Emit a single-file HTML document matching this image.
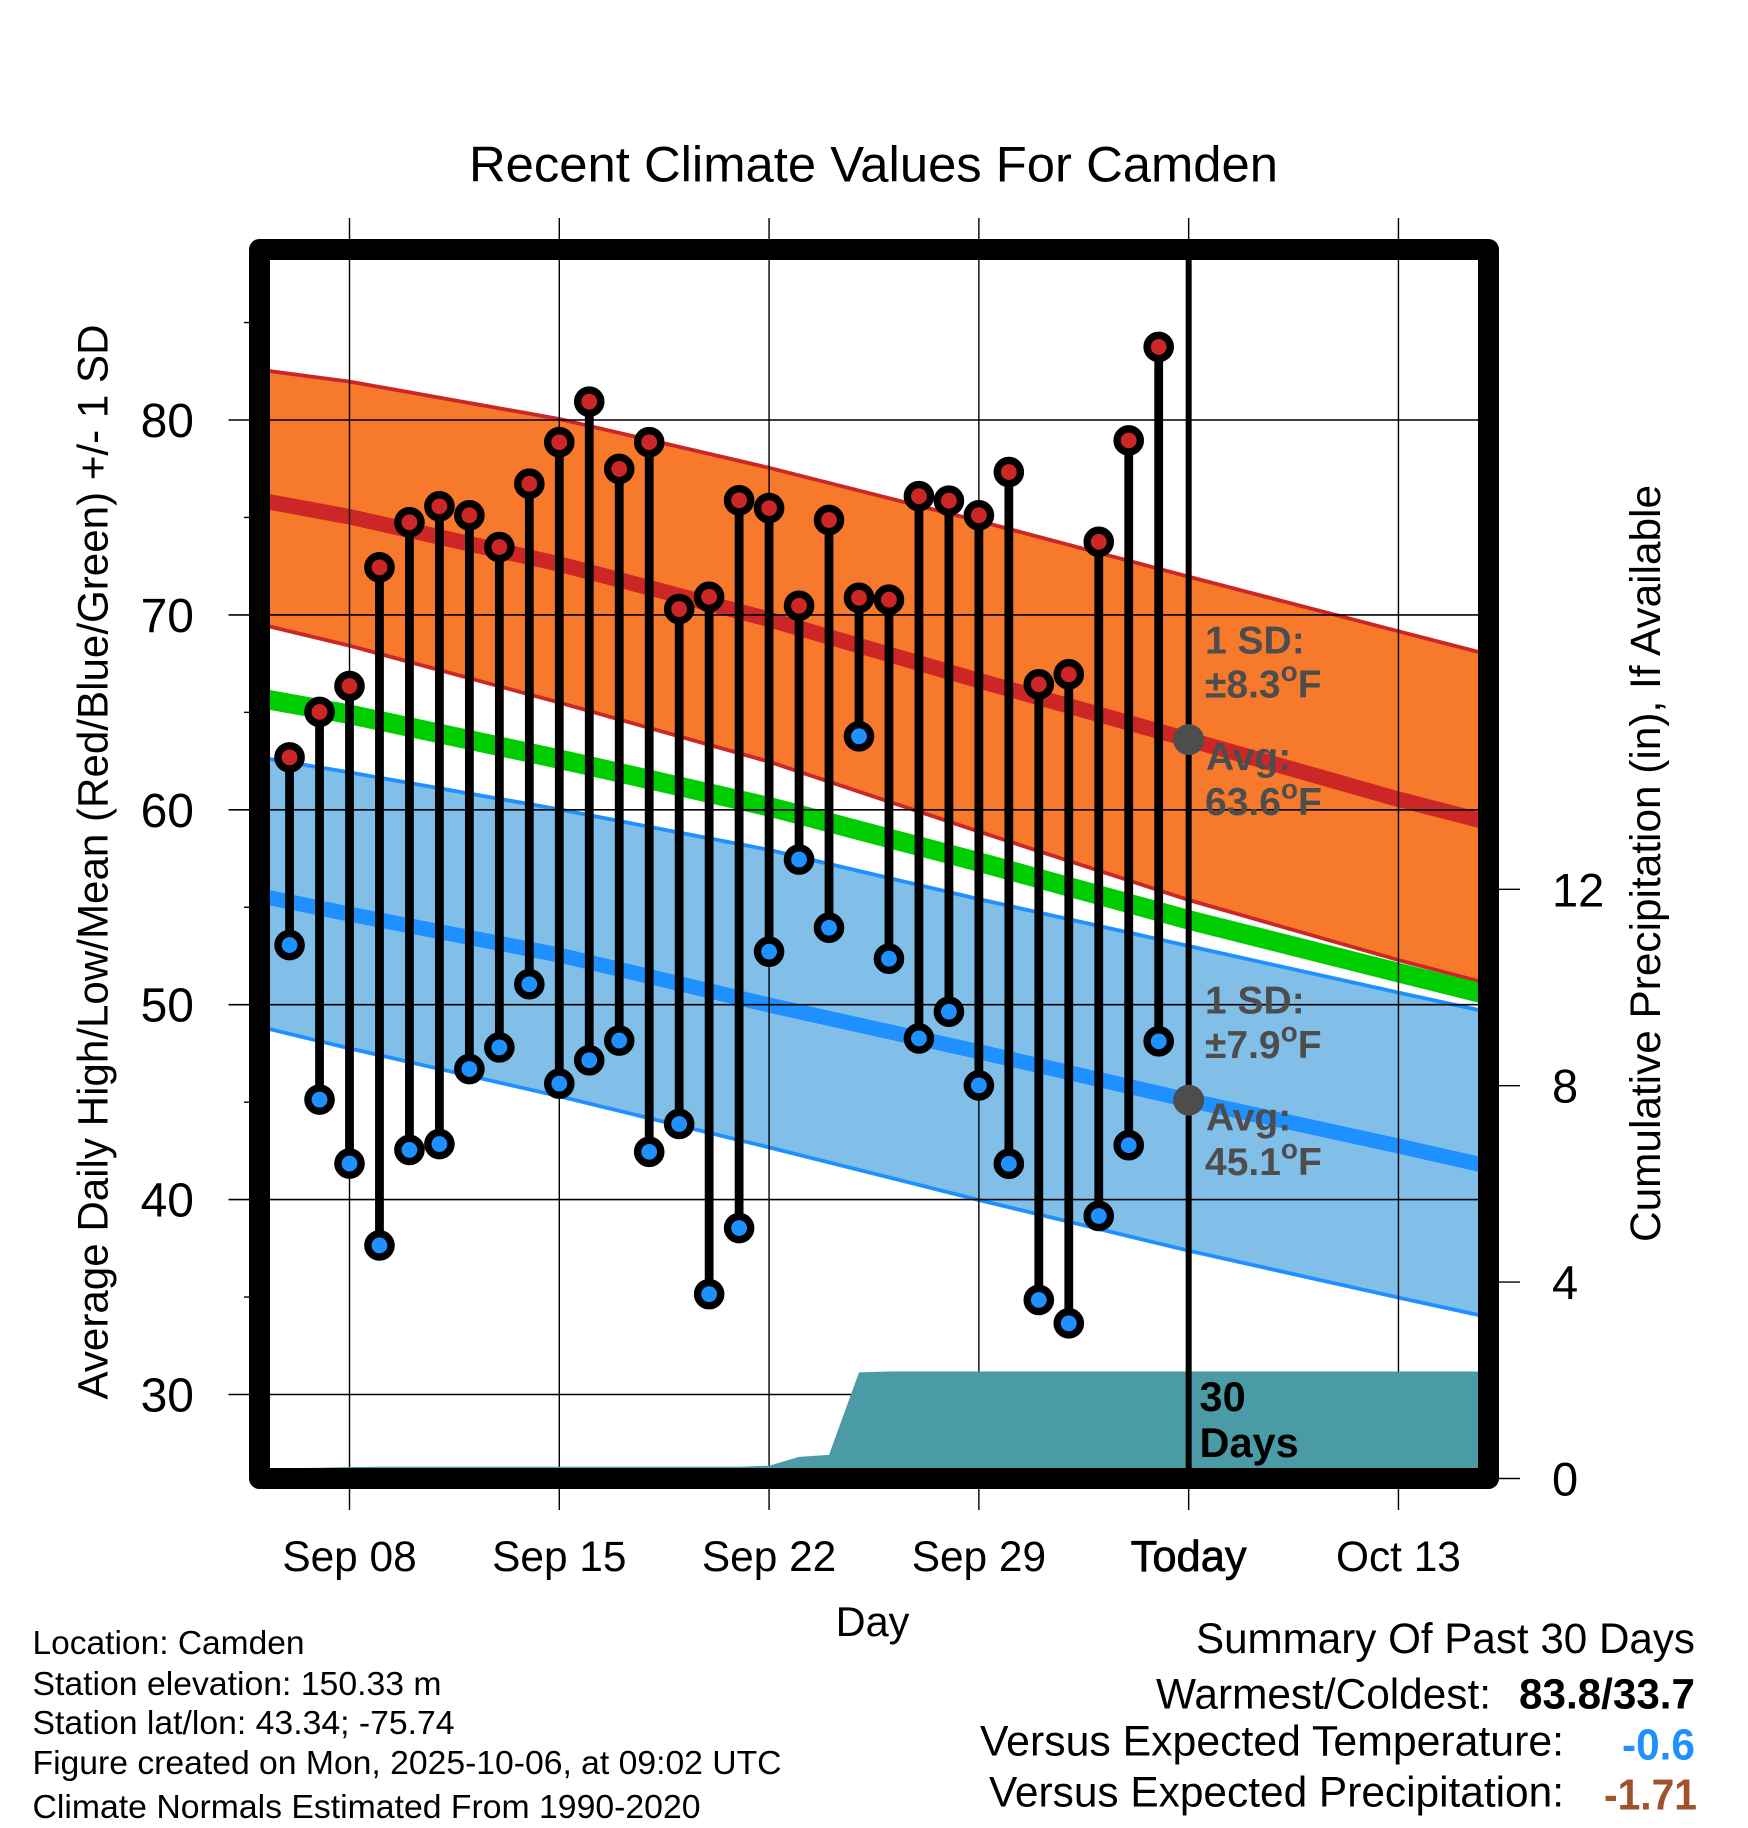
<!DOCTYPE html>
<html lang="en">
<head>
<meta charset="utf-8">
<title>Recent Climate Values For Camden</title>
<style>
html,body{margin:0;padding:0;background:#fff;}
svg{display:block;font-family:"Liberation Sans",Arial,sans-serif;}
</style>
</head>
<body>
<svg id="chart" xmlns="http://www.w3.org/2000/svg" width="1748" height="1828" viewBox="0 0 1748 1828">
  <rect x="0" y="0" width="1748" height="1828" fill="#ffffff"/>
  <text x="873.5" y="181.5" font-size="50.5" text-anchor="middle" textLength="809" lengthAdjust="spacingAndGlyphs">Recent Climate Values For Camden</text>
  <g id="bands"></g>
  <g id="grid"></g>
  <g id="precip"></g>
  <line id="today-line" stroke="#000" stroke-width="6"/>
  <g id="stems"></g>
  <g id="points"></g>
  <g id="today-marks"></g>
  <rect x="259.5" y="249.5" width="1229" height="1229" fill="none" stroke="#000" stroke-width="21" stroke-linejoin="round"/>
  <g id="axis-labels"></g>

  <text transform="translate(107.5,862) rotate(-90)" font-size="43" text-anchor="middle" textLength="1075" lengthAdjust="spacingAndGlyphs">Average Daily High/Low/Mean (Red/Blue/Green) +/- 1 SD</text>
  <text transform="translate(1660,863.5) rotate(-90)" font-size="42.6" text-anchor="middle" textLength="757" lengthAdjust="spacingAndGlyphs">Cumulative Precipitation (in), If Available</text>
  <text x="872.5" y="1636" font-size="41.5" text-anchor="middle">Day</text>

  <g fill="#4d4d4d" font-size="39" font-weight="bold">
    <text x="1205" y="653.5">1 SD:</text>
    <text x="1205" y="697.5">±8.3<tspan font-size="28" dy="-16.5">o</tspan><tspan dy="16.5">F</tspan></text>
    <text x="1206" y="770">Avg:</text>
    <text x="1205" y="815">63.6<tspan font-size="28" dy="-16.5">o</tspan><tspan dy="16.5">F</tspan></text>
  </g>
  <g fill="#4d4d4d" font-size="39" font-weight="bold">
    <text x="1205" y="1013.5">1 SD:</text>
    <text x="1205" y="1058">±7.9<tspan font-size="28" dy="-16.5">o</tspan><tspan dy="16.5">F</tspan></text>
    <text x="1206" y="1130.5">Avg:</text>
    <text x="1205" y="1175">45.1<tspan font-size="28" dy="-16.5">o</tspan><tspan dy="16.5">F</tspan></text>
  </g>
  <text x="1199.5" y="1411" font-size="41.5" font-weight="bold">30</text>
  <text x="1199.5" y="1457" font-size="41.5" font-weight="bold">Days</text>

  <g font-size="33.2">
    <text x="32.5" y="1654" textLength="272" lengthAdjust="spacingAndGlyphs">Location: Camden</text>
    <text x="32.5" y="1695" textLength="409" lengthAdjust="spacingAndGlyphs">Station elevation: 150.33 m</text>
    <text x="32.5" y="1734" textLength="422" lengthAdjust="spacingAndGlyphs">Station lat/lon: 43.34; -75.74</text>
    <text x="32.5" y="1774" textLength="749" lengthAdjust="spacingAndGlyphs">Figure created on Mon, 2025-10-06, at 09:02 UTC</text>
    <text x="32.5" y="1818" textLength="668" lengthAdjust="spacingAndGlyphs">Climate Normals Estimated From 1990-2020</text>
  </g>

  <g font-size="42.4">
    <text x="1196" y="1653" textLength="499" lengthAdjust="spacingAndGlyphs">Summary Of Past 30 Days</text>
    <text x="1156" y="1708.5" textLength="335" lengthAdjust="spacingAndGlyphs">Warmest/Coldest:</text>
    <text x="1519" y="1708.5" font-weight="bold" textLength="176" lengthAdjust="spacingAndGlyphs">83.8/33.7</text>
    <text x="980" y="1755.5" textLength="584" lengthAdjust="spacingAndGlyphs">Versus Expected Temperature:</text>
    <text x="1622" y="1759.5" font-weight="bold" font-size="43.5" fill="#1e90ff" textLength="73" lengthAdjust="spacingAndGlyphs">-0.6</text>
    <text x="989" y="1806.5" textLength="575" lengthAdjust="spacingAndGlyphs">Versus Expected Precipitation:</text>
    <text x="1604" y="1809.5" font-weight="bold" font-size="43.5" fill="#a0522d" textLength="93" lengthAdjust="spacingAndGlyphs">-1.71</text>
  </g>
</svg>
<script>
// Observed daily values, Sep 06 through Oct 05
var dailyHighs = [62.69,65.02,66.35,72.44,74.75,75.57,75.11,73.48,76.73,78.86,80.94,77.49,78.86,70.3,70.93,75.88,75.48,70.47,74.87,70.88,70.78,76.09,75.86,75.11,77.33,66.44,66.95,73.75,78.95,83.75];
var dailyLows = [53.06,45.13,41.85,37.65,42.55,42.85,46.7,47.81,51.05,45.95,47.15,48.16,42.45,43.88,35.15,38.54,52.72,57.45,53.95,63.77,52.36,48.27,49.64,45.86,41.84,34.85,33.65,39.16,42.79,48.12];
// Climate normals sampled by day offset from Sep 08
var normalDays = [-3,0,7,14,21,28,35,38];
var highUpper = [82.58,81.97,80.05,77.55,74.82,71.96,69.16,67.97];
var highMean = [75.89,75.04,72.61,69.77,66.63,63.6,60.54,59.35];
var highLower = [69.53,68.42,65.5,62.47,58.88,55.37,52.29,51.08];
var greenMean = [65.73,64.9,62.6,60.16,57.32,54.35,51.64,50.5];
var lowUpper = [62.69,61.92,60.02,57.94,55.42,53.01,50.62,49.62];
var lowMean = [55.6,54.65,52.55,49.98,47.59,45.1,42.75,41.71];
var lowLower = [48.87,47.76,45.3,42.68,39.98,37.38,34.97,33.97];
// Cumulative precipitation, Sep 06 through Oct 16
var precipCumulative = [0.21,0.22,0.235,0.24,0.24,0.24,0.24,0.24,0.24,0.24,0.24,0.24,0.24,0.24,0.24,0.24,0.26,0.44,0.48,2.16,2.18,2.18,2.18,2.18,2.18,2.18,2.18,2.18,2.18,2.18,2.18,2.18,2.18,2.18,2.18,2.18,2.18,2.18,2.18,2.18,2.18];
// Axis ticks
var xTickDays = [0,7,14,21,28,35];
var xTickLabels = ['Sep 08','Sep 15','Sep 22','Sep 29','Today','Oct 13'];
var yMajorTicks = [30,40,50,60,70,80];
var yMinorTicks = [35,45,55,65,75,85];
var precipTicks = [0,4,8,12];
var todayDay = 28;
var todayHighAvg = 63.6;
var todayLowAvg = 45.1;

var NS = 'http://www.w3.org/2000/svg';
function xScale(d){ return 349.5 + d * 29.97; }
function yScale(v){ return 420 + (80 - v) * 19.49; }
function pScale(p){ return 1478.5 - p * 49.1; }
function make(tag, parent, attrs){
  var el = document.createElementNS(NS, tag);
  for (var k in attrs) { el.setAttribute(k, attrs[k]); }
  parent.appendChild(el);
  return el;
}
function linePoints(days, vals){
  return days.map(function(d,i){ return xScale(d).toFixed(1)+','+yScale(vals[i]).toFixed(1); });
}
var bands = document.getElementById('bands');
var grid = document.getElementById('grid');
var precipG = document.getElementById('precip');
var stems = document.getElementById('stems');
var points = document.getElementById('points');
var marks = document.getElementById('today-marks');
var labels = document.getElementById('axis-labels');

function band(upper, lower, fill, edge, name){
  var poly = make('polygon', bands, {points: linePoints(normalDays, upper).concat(linePoints(normalDays, lower).reverse()).join(' '), fill: fill});
  
  
  var up = make('polyline', bands, {points: linePoints(normalDays, upper).join(' '), fill: 'none', stroke: edge, 'stroke-width': 3.8});
  
  
  var lo = make('polyline', bands, {points: linePoints(normalDays, lower).join(' '), fill: 'none', stroke: edge, 'stroke-width': 3.8});
  
  
}
function meanLine(vals, color, width, name){
  var l = make('polyline', bands, {points: linePoints(normalDays, vals).join(' '), fill: 'none', stroke: color, 'stroke-width': width, 'stroke-linejoin': 'round'});
  
  
}
band(lowUpper, lowLower, '#82bfe8', '#1e90ff', 'low-normal-band');
band(highUpper, highLower, '#f7792b', '#cd2626', 'high-normal-band');
meanLine(lowMean, '#1e90ff', 15, 'low-normal-mean');
meanLine(highMean, '#cd2626', 15.5, 'high-normal-mean');
meanLine(greenMean, '#00cd00', 19.5, 'mean-normal-line');

yMajorTicks.forEach(function(v){
  var l = make('line', grid, {x1: 228.5, x2: 1478, y1: yScale(v), y2: yScale(v), stroke: '#000', 'stroke-width': 1.6});
  
  
  var t = make('text', labels, {x: 194, y: yScale(v) + 17, 'text-anchor': 'end', 'font-size': 48});
  
  
  t.textContent = String(v);
});
yMinorTicks.forEach(function(v){
  var l = make('line', grid, {x1: 244, x2: 250, y1: yScale(v), y2: yScale(v), stroke: '#000', 'stroke-width': 1.4});
  
  
});
xTickDays.forEach(function(d,i){
  var l = make('line', grid, {x1: xScale(d), x2: xScale(d), y1: 218, y2: 1510, stroke: '#000', 'stroke-width': 1.4});
  
  
  var t = make('text', labels, {x: xScale(d), y: 1571, 'text-anchor': 'middle', 'font-size': 42.4});
  
  
  if (xTickLabels[i] === 'Today') { t.setAttribute('stroke', '#000'); t.setAttribute('stroke-width', '0.7'); t.setAttribute('font-size', '43.5'); }
  t.textContent = xTickLabels[i];
});
precipTicks.forEach(function(p){
  var l = make('line', grid, {x1: 1499, x2: 1520, y1: pScale(p), y2: pScale(p), stroke: '#000', 'stroke-width': 1.4});
  
  
  var t = make('text', labels, {x: 1552, y: pScale(p) + 17, 'font-size': 47});
  
  
  t.textContent = String(p);
});

var precipPts = [xScale(-2).toFixed(1)+','+pScale(0)];
precipCumulative.forEach(function(p,i){
  precipPts.push(xScale(i-2).toFixed(1)+','+pScale(p).toFixed(1));
});
precipPts.push(xScale(precipCumulative.length-3).toFixed(1)+','+pScale(0));
var area = make('polygon', precipG, {points: precipPts.join(' '), fill: '#4a9ba5'});



var todayLine = document.getElementById('today-line');
todayLine.setAttribute('x1', xScale(todayDay));
todayLine.setAttribute('x2', xScale(todayDay));
todayLine.setAttribute('y1', 260);
todayLine.setAttribute('y2', 1470);

dailyHighs.forEach(function(hi,i){
  var lo = dailyLows[i];
  var x = xScale(i-2);
  var s = make('line', stems, {x1: x, x2: x, y1: yScale(hi), y2: yScale(lo), stroke: '#000', 'stroke-width': 8.8});
  
  
  var c1 = make('circle', points, {cx: x, cy: yScale(hi), r: 11.6, fill: '#cd2626', stroke: '#000', 'stroke-width': 7.4});
  
  
  var c2 = make('circle', points, {cx: x, cy: yScale(lo), r: 11.6, fill: '#1e90ff', stroke: '#000', 'stroke-width': 7.4});
  
  
});
var m1 = make('circle', marks, {cx: xScale(todayDay), cy: yScale(todayHighAvg), r: 15.5, fill: '#4d4d4d'});


var m2 = make('circle', marks, {cx: xScale(todayDay), cy: yScale(todayLowAvg), r: 15.5, fill: '#4d4d4d'});


</script>
</body>
</html>
